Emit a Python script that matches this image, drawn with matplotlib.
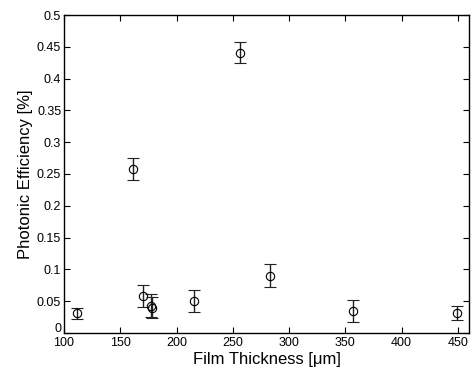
#! python3
# plot.py - photonic efficiency against film thickness, with error bars

import matplotlib
matplotlib.use('Agg')
import matplotlib.pyplot as plt
import matplotlib.transforms as mtransforms

plt.rcParams['font.family'] = ['Liberation Sans', 'DejaVu Sans']

# measured samples (thickness in um, efficiency in %)
thickness = [111.5, 161.5, 170.5, 177.5, 178.5, 215.5, 256.5, 283, 356.5, 449.5]
efficiency = [0.031, 0.258, 0.058, 0.043, 0.040, 0.050, 0.441, 0.090, 0.035, 0.031]
error = [0.009, 0.017, 0.017, 0.018, 0.017, 0.017, 0.017, 0.018, 0.017, 0.011]

x_ticks = [100, 150, 200, 250, 300, 350, 400, 450]
y_ticks = [0, 0.05, 0.1, 0.15, 0.2, 0.25, 0.3, 0.35, 0.4, 0.45, 0.5]


def plot_efficiency():
    fig = plt.figure(figsize=(4.71, 3.74), dpi=100)
    ax = fig.add_axes([64 / 471, 41 / 374, 405 / 471, 318 / 374])

    ax.errorbar(thickness, efficiency, yerr=error, fmt='o', color='black',
                mfc='none', mec='black', ms=6, mew=0.8,
                ecolor='#222222', elinewidth=1.0, capsize=4, capthick=1.0)

    ax.set_xlim(100, 460)
    ax.set_ylim(0, 0.5)
    ax.set_xticks(x_ticks)
    ax.set_yticks(y_ticks)
    ax.set_xticklabels([str(t) for t in x_ticks])
    ax.set_yticklabels(['0', '0.05', '0.1', '0.15', '0.2', '0.25', '0.3',
                        '0.35', '0.4', '0.45', '0.5'])
    ax.tick_params(direction='in', top=True, right=True, length=4,
                   width=0.8, labelsize=9)
    ax.tick_params(axis='x', pad=3)
    ax.tick_params(axis='y', pad=2)
    for spine in ax.spines.values():
        spine.set_linewidth(1.0)

    # lift the zero label a little so it clears the "100" below it
    zero = ax.get_yticklabels()[0]
    zero.set_transform(zero.get_transform() +
                       mtransforms.ScaledTranslation(0, 4 / 72, fig.dpi_scale_trans))

    ax.set_xlabel('Film Thickness [\u03bcm]', fontsize=12, labelpad=2)
    ax.set_ylabel('Photonic Efficiency [%]', fontsize=12, labelpad=3)

    fig.savefig('out.png', dpi=100)


if __name__ == '__main__':
    plot_efficiency()
